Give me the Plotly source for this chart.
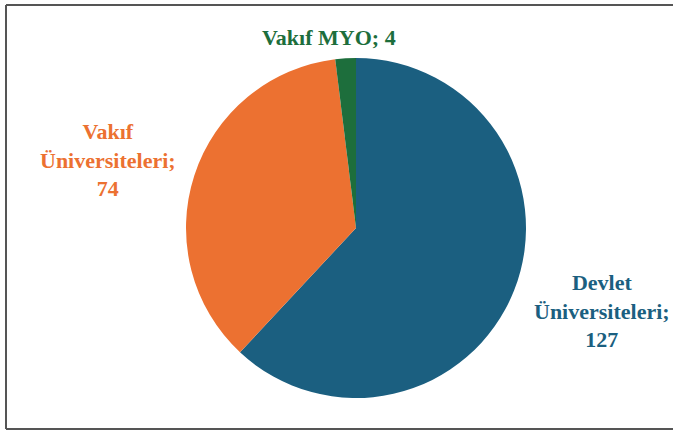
import plotly.graph_objects as go

labels = ["Devlet Üniversiteleri", "Vakıf Üniversiteleri", "Vakıf MYO"]
label_lines = [["Devlet", "Üniversiteleri;"], ["Vakıf", "Üniversiteleri;"], ["Vakıf MYO;"]]
values = [127, 74, 4]
colors = ["#1b5f80", "#ec7131", "#1d6e3c"]

W, H = 673, 431
cx, cy, r = 356, 228, 170

fig = go.Figure(go.Pie(
    labels=labels, values=values, sort=False, direction="clockwise", rotation=0,
    marker=dict(colors=colors, line=dict(width=0)), textinfo="none", hoverinfo="label+value",
    domain=dict(x=[(cx - r) / W, (cx + r) / W], y=[1 - (cy + r) / H, 1 - (cy - r) / H]),
    showlegend=False,
))

# label anchor positions (px)
label_pos = [(602, 311), (108, 160), (329, 38)]
for lines, v, c, (px, py) in zip(label_lines, values, colors, label_pos):
    if len(lines) == 1:
        text = f"{lines[0]} {v}"
    else:
        text = "<br>".join(lines + [str(v)])
    fig.add_annotation(x=px / W, y=1 - py / H, xref="paper", yref="paper", text=text,
                       showarrow=False, xanchor="center", yanchor="middle", align="center",
                       font=dict(family="Liberation Serif", size=22, color=c, weight="bold"))

border = "#555555"
x0 = 6 / W
yt = 1 - 5 / H
yb = 1 - 429 / H
fig.add_shape(type="line", xref="paper", yref="paper", x0=x0, x1=1.02, y0=yt, y1=yt,
              line=dict(color=border, width=2))
fig.add_shape(type="line", xref="paper", yref="paper", x0=x0, x1=1.02, y0=yb, y1=yb,
              line=dict(color=border, width=2))
fig.add_shape(type="line", xref="paper", yref="paper", x0=x0, x1=x0, y0=yt, y1=yb,
              line=dict(color=border, width=2))

fig.update_layout(width=W, height=H, margin=dict(l=0, r=0, t=0, b=0),
                  paper_bgcolor="white", plot_bgcolor="white")
fig.write_html("out.html", config={"displayModeBar": False},
               post_script="document.body.style.margin='0';document.body.style.overflow='hidden';")
